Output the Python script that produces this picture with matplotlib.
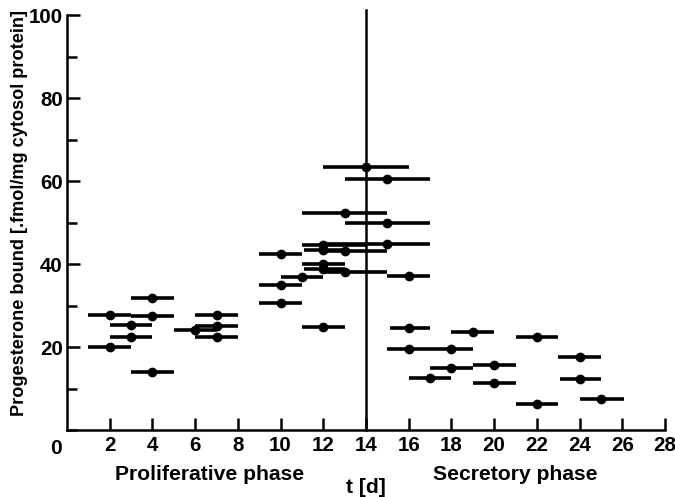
import matplotlib
matplotlib.use('Agg')
import matplotlib.pyplot as plt
from matplotlib import font_manager
from matplotlib.ticker import MultipleLocator

# day of cycle (dot), measured value, and the day range of each bar
days = [2, 2, 3, 3, 4, 4, 4, 6, 7, 7, 7,
        10, 10, 10, 11, 12, 12, 12, 12, 12, 13, 13, 13,
        14, 15, 15, 15, 16, 16, 16, 17, 18, 18, 19, 20, 20,
        22, 22, 24, 24, 25]
values = [27.8, 20.1, 25.4, 22.5, 31.7, 27.4, 14.0, 24.0, 27.8, 25.0, 22.3,
          42.4, 34.9, 30.7, 36.8, 44.6, 43.4, 40.0, 38.8, 24.9, 52.3, 43.1, 38.0,
          63.4, 60.5, 49.9, 44.8, 37.0, 24.7, 19.6, 12.6, 19.6, 15.0, 23.5, 15.7, 11.4,
          22.5, 6.3, 17.7, 12.3, 7.5]
range_lo = [1, 1, 2, 2, 3, 3, 3, 5, 6, 6, 6,
            9, 9, 9, 10, 11, 11.1, 11, 11.1, 11, 11, 12.1, 12.1,
            12, 13, 13, 12.1, 15, 15.1, 15, 16, 17, 17, 18, 19, 19,
            21, 21, 23, 23.1, 24]
range_hi = [3, 3, 4, 4, 5, 5, 5, 7, 8, 8, 8,
            11, 11, 11, 12, 14, 12.9, 13, 13, 13, 15, 15, 15,
            16, 17, 17, 17, 17, 17, 17, 18, 19, 19, 20, 21, 21,
            23, 23, 25, 25, 26.1]

phase_boundary = 14
x_ticks = list(range(2, 29, 2))
y_ticks = [20, 40, 60, 80, 100]

# narrowest bold face available
names = {f.name for f in font_manager.fontManager.ttflist}
if 'Liberation Sans Narrow' in names:
    family = 'Liberation Sans Narrow'
elif 'Liberation Sans' in names:
    family = 'Liberation Sans'
else:
    family = 'DejaVu Sans'
plt.rcParams['font.family'] = [family, 'DejaVu Sans']
plt.rcParams['font.weight'] = 'bold'

fig = plt.figure(figsize=(6.75, 4.97), dpi=100)
ax = fig.add_axes([0.0993, 0.1348, 0.8859, 0.835])

xerr = [[d - lo for d, lo in zip(days, range_lo)],
        [hi - d for d, hi in zip(days, range_hi)]]
ax.errorbar(days, values, xerr=xerr, fmt='o', color='black', ms=6,
            elinewidth=2.6, capsize=0)

ax.axvline(phase_boundary, ymin=0, ymax=1.013, clip_on=False,
           color='black', lw=1.8)

ax.set_xlim(0, 28)
ax.set_ylim(0, 100)
for side in ['top', 'right']:
    ax.spines[side].set_visible(False)
for side in ['left', 'bottom']:
    ax.spines[side].set_linewidth(1.8)

ax.set_xticks(x_ticks)
ax.set_yticks(y_ticks)
ax.yaxis.set_minor_locator(MultipleLocator(10))
ax.tick_params(which='both', direction='in', length=9, width=1.8, pad=4)
ax.tick_params(axis='y', which='minor', length=7)
ax.tick_params(axis='y', pad=3)

zero = ax.annotate('0', xy=(0, 0), xytext=(-8, -13), textcoords='offset points',
                   ha='center', va='center')

prolif = fig.text(0.311, 0.046, 'Proliferative phase', ha='center', va='center')
secret = fig.text(0.763, 0.046, 'Secretory phase', ha='center', va='center')
tlabel = fig.text(0.542, 0.020, 't [d]', ha='center', va='center')
ylab = fig.text(0.0296, 0.571, 'Progesterone bound [.fmol/mg cytosol protein]',
                rotation=90, ha='center', va='center')

# size the texts from the reference extents (a bit larger, since the
# original face is condensed and taller)
renderer = fig.canvas.get_renderer()
base = 15
for t in [prolif, secret, tlabel, ylab, zero]:
    t.set_fontsize(base)
prolif_w = prolif.get_window_extent(renderer).width
size = base * 190 / prolif_w
for t in [prolif, secret, tlabel, zero]:
    t.set_fontsize(size)
ax.tick_params(labelsize=size * 0.97)
ylab_h = ylab.get_window_extent(renderer).height
ylab.set_fontsize(base * 407 / ylab_h)

fig.savefig('out.png', dpi=100)
